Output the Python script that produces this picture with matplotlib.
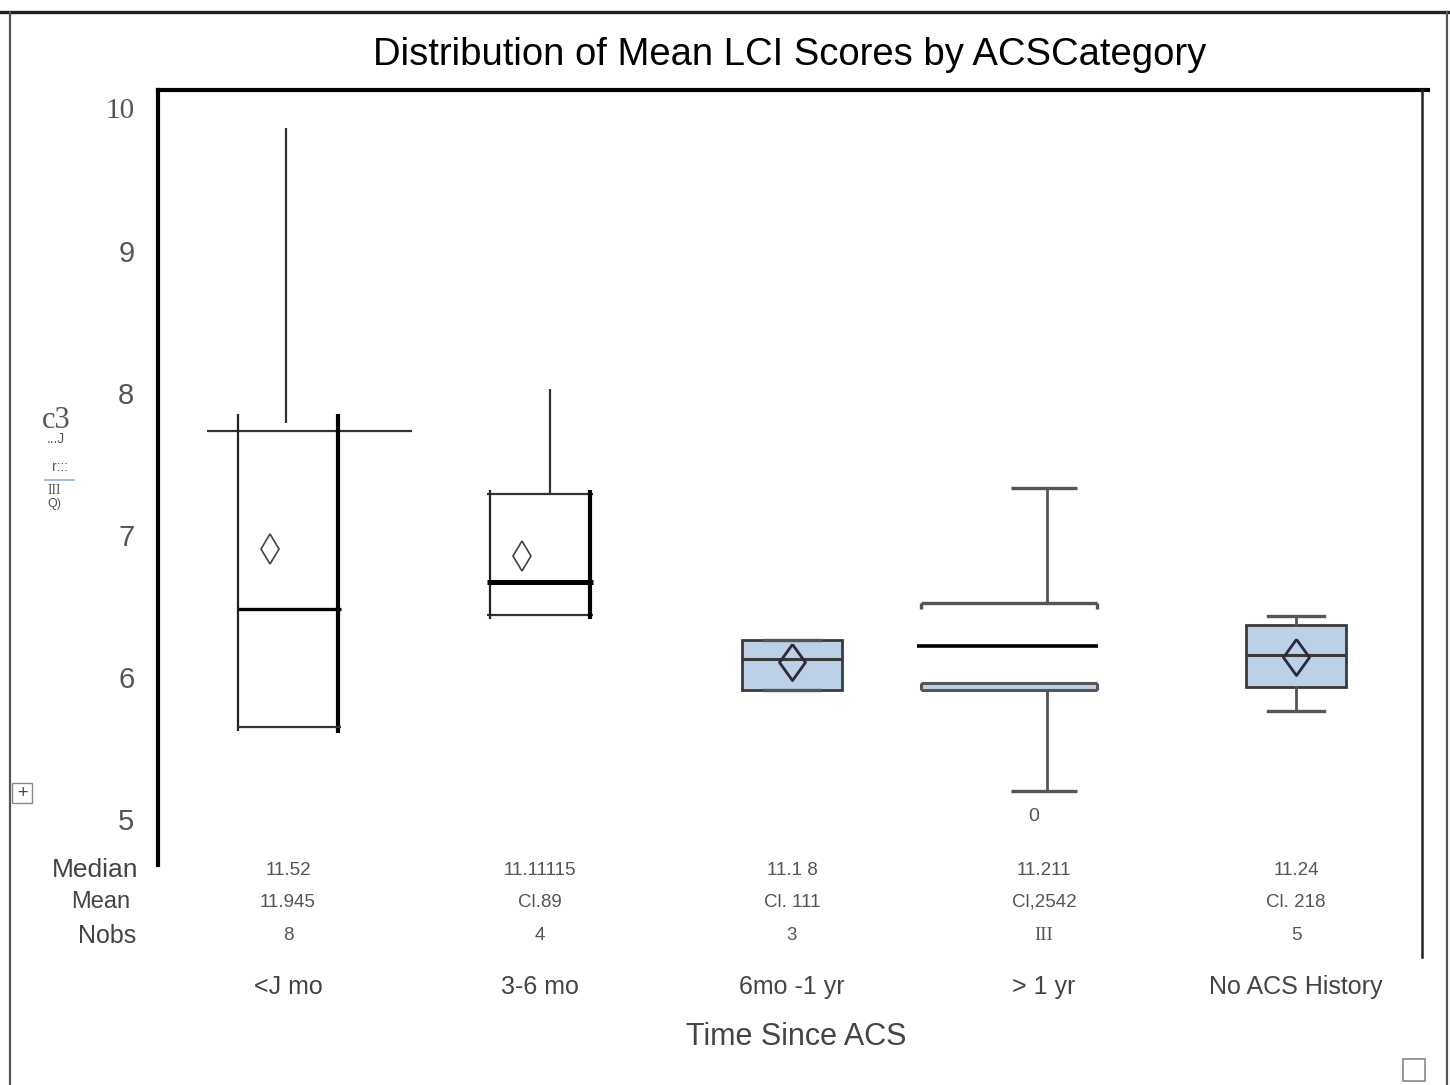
import numpy as np
import matplotlib
matplotlib.use("Agg")
import matplotlib.pyplot as plt
from matplotlib.lines import Line2D
from matplotlib.patches import Rectangle

plt.rcParams['font.family'] = ['Liberation Sans', 'DejaVu Sans']

#----data----
categories = ["<J mo", "3-6 mo", "6mo -1 yr", "> 1 yr", "No ACS History"]
q1 = [5.65, 6.44, 5.91, 5.91, 5.93]
q3 = [7.73, 7.29, 6.26, 6.52, 6.37]
medians = [6.48, 6.67, 6.13, 6.22, 6.16]
means = [6.90, 6.85, 6.11, np.nan, 6.14]
whislo = [5.65, 6.44, 5.91, 5.20, 5.76]
whishi = [9.86, 8.03, 6.26, 7.33, 6.43]

median_txt = ["11.52", "11.11115", "11.1 8", "11.211", "11.24"]
mean_txt = ["11.945", "Cl.89", "Cl. 111", "Cl,2542", "Cl. 218"]
nobs_txt = ["8", "4", "3", "III", "5"]
yticks = [5, 6, 7, 8, 9, 10]

W, H = 1450, 1085
def fx(x):
    return x / W
def fy(y):
    return 1 - y / H

grey = "#555555"
fill = "#bcd0e8"
wide_diamond = [(0, 1), (0.72, 0), (0, -1), (-0.72, 0), (0, 1)]

fig = plt.figure(figsize=(14.5, 10.85), dpi=100)
ax = fig.add_axes([fx(158), fy(865), fx(1422) - fx(158), fy(90) - fy(865)])
ax.set_xlim(0.484, 5.5)
ax.set_ylim(4.68, 10.13)
for s in ax.spines.values():
    s.set_visible(False)
ax.set_xticks([])
ax.set_yticks(yticks)
ax.set_yticklabels([str(t) for t in yticks], fontsize=21, color="#555555")
ax.tick_params(axis='y', length=0, pad=17)
ax.get_yticklabels()[-1].set_fontfamily('Liberation Serif')

pos = np.arange(1, len(categories) + 1)

def diamond(x, y, color, lw, ms):
    ax.plot(x, y, marker='d', markersize=ms, markerfacecolor='none',
            markeredgecolor=color, markeredgewidth=lw, zorder=5)

#----box 1: open box, long top line, thick right side----
x = pos[0]
hw = 0.2
ax.vlines(x - 0.01, q3[0] + 0.06, whishi[0], color="#333333", lw=1.6)
ax.hlines(q3[0], x - 0.32, x + 0.49, color="#333333", lw=1.6)
ax.vlines(x - hw, q1[0] - 0.03, q3[0] + 0.12, color="#222222", lw=1.6)
ax.vlines(x + hw, q1[0] - 0.04, q3[0] + 0.12, color="black", lw=3)
ax.hlines(q1[0], x - hw, x + hw + 0.01, color="#333333", lw=1.6)
ax.hlines(medians[0], x - hw, x + hw + 0.01, color="black", lw=2.4)
diamond(x - 0.07, means[0], "#444444", 1.2, 15)

#----box 2----
x = pos[1]
hw = 0.2
ax.vlines(x + 0.04, q3[1], whishi[1], color="#333333", lw=1.6)
ax.hlines(q3[1], x - hw - 0.01, x + hw + 0.01, color="#333333", lw=1.6)
ax.hlines(q1[1], x - hw - 0.01, x + hw + 0.01, color="#333333", lw=1.6)
ax.vlines(x - hw, q1[1] - 0.03, q3[1] + 0.03, color="#222222", lw=1.6)
ax.vlines(x + hw, q1[1] - 0.03, q3[1] + 0.03, color="black", lw=3)
ax.hlines(medians[1], x - hw - 0.01, x + hw + 0.01, color="black", lw=3.6)
diamond(x - 0.07, means[1], "#444444", 1.2, 15)

#----box 3 and 5: filled boxes----
stats = []
for i in [2, 4]:
    stats.append(dict(med=medians[i], q1=q1[i], q3=q3[i], whislo=whislo[i],
                      whishi=whishi[i], mean=means[i], fliers=[]))
ax.bxp(stats, positions=[pos[2], pos[4]], widths=0.4, patch_artist=True,
       showmeans=True, meanline=False,
       boxprops=dict(facecolor=fill, edgecolor="#3a3a3a", linewidth=2),
       medianprops=dict(color="#3a3a3a", linewidth=2.2),
       whiskerprops=dict(color=grey, linewidth=2),
       capprops=dict(color=grey, linewidth=2.4),
       capwidths=0.22,
       meanprops=dict(marker=wide_diamond, markersize=26, markerfacecolor='none',
                      markeredgecolor="#2a2a3a", markeredgewidth=2),
       manage_ticks=False)

#----box 4: split box, shifted left of its whisker----
x = pos[3]
bl, br = x - 0.49, x + 0.21
wx = x + 0.01
ax.vlines(wx, q3[3], whishi[3], color=grey, lw=2)
ax.vlines(wx, whislo[3], q1[3], color=grey, lw=2)
ax.hlines([whishi[3], whislo[3]], x - 0.13, x + 0.13, color=grey, lw=2.4)
ax.hlines(q3[3], bl, br, color=grey, lw=2.4)
ax.vlines([bl, br], q3[3] - 0.04, q3[3], color=grey, lw=2.4)
ax.add_patch(Rectangle((bl, q1[3]), br - bl, 0.05, facecolor=fill,
                       edgecolor='none'))
ax.hlines([q1[3], q1[3] + 0.05], bl, br, color=grey, lw=2.2)
ax.vlines([bl, br], q1[3], q1[3] + 0.05, color=grey, lw=2.2)
ax.hlines(medians[3], bl - 0.015, br + 0.005, color="black", lw=2.6)
ax.text(x - 0.04, 5.02, "0", ha='center', va='center', fontsize=14, color=grey)

#----table below axis----
tr = ax.get_xaxis_transform()
for i in range(len(categories)):
    ax.text(pos[i], -0.0075, median_txt[i], transform=tr, ha='center', va='center',
            fontsize=13.5, color="#555555")
    ax.text(pos[i], -0.048, mean_txt[i], transform=tr, ha='center', va='center',
            fontsize=13.5, color="#555555")
    ax.text(pos[i], -0.0916, nobs_txt[i], transform=tr, ha='center', va='center',
            fontsize=13.5, color="#555555",
            family='Liberation Serif' if nobs_txt[i] == "III" else 'Liberation Sans')
    ax.text(pos[i], -0.157, categories[i], transform=tr, ha='center', va='center',
            fontsize=18, color="#444444")

fig.text(fx(95), fy(870), "Median", ha='center', va='center', fontsize=19, color="#444444")
fig.text(fx(101), fy(902), "Mean", ha='center', va='center', fontsize=17, color="#444444")
fig.text(fx(107), fy(936), "Nobs", ha='center', va='center', fontsize=18, color="#444444")
ax.text(0.505, -0.222, "Time Since ACS", transform=ax.transAxes, ha='center',
        va='center', fontsize=22, color="#444444")

fig.text(fx(790), fy(55), "Distribution of Mean LCI Scores by ACSCategory",
         ha='center', va='center', fontsize=27.5, color="black")

#----garbled y label----
fig.text(fx(56), fy(420), "c3", ha='center', va='center', fontsize=22,
         color="#555555", family='Liberation Serif')
fig.text(fx(56), fy(439), "...J", ha='center', va='center', fontsize=10, color="#555555")
fig.text(fx(60), fy(467), "r:::", ha='center', va='center', fontsize=10, color="#555555")
fig.add_artist(Line2D([fx(45), fx(74)], [fy(480), fy(480)], color="#8fb3d9", lw=1.2))
fig.text(fx(54), fy(490), "III", ha='center', va='center', fontsize=10,
         color="#555555", family='Liberation Serif')
fig.text(fx(54), fy(504), "Q)", ha='center', va='center', fontsize=9, color="#555555")

#----frame lines----
fig.add_artist(Line2D([fx(0), fx(1450)], [fy(12), fy(12)], color="#222222", lw=2.4))
fig.add_artist(Line2D([fx(10), fx(10)], [fy(12), fy(1085)], color="#555555", lw=1.6))
fig.add_artist(Line2D([fx(1447), fx(1447)], [fy(12), fy(1085)], color="#555555", lw=1.6))
fig.add_artist(Line2D([fx(158), fx(1428)], [fy(90), fy(90)], color="black", lw=3))
fig.add_artist(Line2D([fx(158), fx(158)], [fy(90), fy(865)], color="black", lw=3))
fig.add_artist(Line2D([fx(1422), fx(1422)], [fy(90), fy(957)], color="#222222", lw=1.8))

#----little icons----
fig.add_artist(Rectangle((fx(1403), fy(1081)), 22 / W, 22 / H, transform=fig.transFigure,
                         facecolor='none', edgecolor="#888888", lw=1.2))
fig.add_artist(Rectangle((fx(12), fy(803)), 20 / W, 20 / H, transform=fig.transFigure,
                         facecolor='none', edgecolor="#888888", lw=1))
fig.text(fx(22), fy(793), "+", ha='center', va='center', fontsize=13, color="#444444")

fig.savefig("out.png", dpi=100)
